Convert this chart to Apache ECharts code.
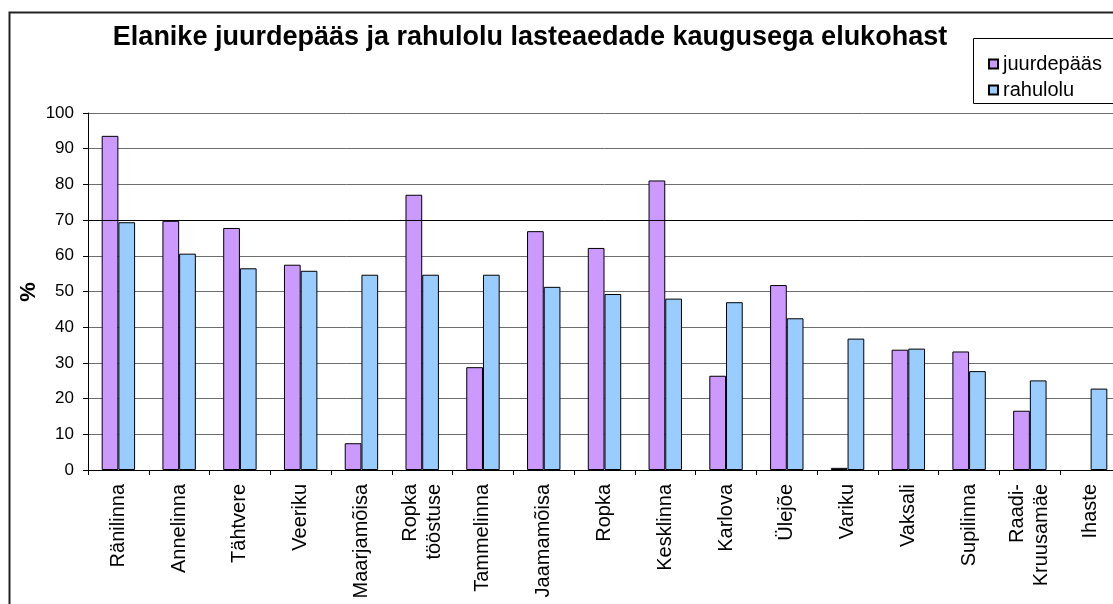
<!DOCTYPE html>
<html>
<head>
<meta charset="utf-8">
<script src="https://cdn.jsdelivr.net/npm/echarts@6/dist/echarts.min.js"></script>
<style>
  html, body { margin: 0; padding: 0; background: #fff; overflow: hidden; }
  #main { width: 1121px; height: 604px; }
</style>
</head>
<body>
<div id="main"></div>
<script>
const titleText = 'Elanike juurdepääs ja rahulolu lasteaedade kaugusega elukohast';
const categories = ['Ränilinna', 'Annelinna', 'Tähtvere', 'Veeriku', 'Maarjamõisa', 'Ropka\ntööstuse',
  'Tammelinna', 'Jaamamõisa', 'Ropka', 'Kesklinna', 'Karlova', 'Ülejõe', 'Variku', 'Vaksali',
  'Supilinna', 'Raadi-\nKruusamäe', 'Ihaste'];
const seriesNames = ['juurdepääs', 'rahulolu'];
const juurdepaas = [93.6, 69.8, 67.8, 57.5, 7.5, 77.1, 28.8, 66.9, 62.2, 81.1, 26.4, 51.8, 0.6, 33.7, 33.2, 16.6, null];
const rahulolu = [69.4, 60.6, 56.5, 55.8, 54.7, 54.7, 54.7, 51.3, 49.3, 48.0, 47.0, 42.5, 36.8, 34.0, 27.7, 25.1, 22.8];
const yMin = 0, yMax = 100, yStep = 10;
const yAxisTitle = '%';

const FONT = '"Liberation Sans", Arial, sans-serif';
const chart = echarts.init(document.getElementById('main'));
chart.setOption({
  animation: false,
  backgroundColor: '#fff',
  textStyle: { fontFamily: FONT, color: '#000' },
  grid: { left: 88, right: 0, top: 113, bottom: 134, containLabel: false },
  legend: {
    left: 988, top: 54, orient: 'vertical',
    itemWidth: 9, itemHeight: 9, itemGap: 6, padding: 0,
    icon: 'rect',
    textStyle: { fontSize: 20, fontFamily: FONT, color: '#000' },
    data: seriesNames
  },
  xAxis: {
    type: 'category', data: categories, boundaryGap: true,
    axisLine: { lineStyle: { color: '#000', width: 1 } },
    axisTick: { show: true, length: 5, lineStyle: { color: '#000' }, alignWithLabel: false },
    axisLabel: { interval: 0, rotate: 90, margin: 14, fontSize: 20, lineHeight: 24, color: '#000', fontFamily: FONT }
  },
  yAxis: {
    type: 'value', min: yMin, max: yMax, interval: yStep,
    axisLine: { show: true, lineStyle: { color: '#000', width: 1 } },
    axisTick: { show: true, length: 5, lineStyle: { color: '#000' } },
    axisLabel: { margin: 14, fontSize: 17, color: '#000', fontFamily: FONT },
    splitLine: { show: true, lineStyle: { color: '#6e6e6e', width: 1 } }
  },
  series: [
    {
      name: seriesNames[0], type: 'bar', data: juurdepaas,
      barGap: '0%', barCategoryGap: '45%',
      itemStyle: { color: '#CC99FF', borderColor: '#000', borderWidth: 1 },
      markLine: {
        silent: true, symbol: 'none', label: { show: false },
        lineStyle: { color: '#000', width: 1, type: 'solid' },
        data: [{ yAxis: 70 }]
      },
      z: 2
    },
    {
      name: seriesNames[1], type: 'bar', data: rahulolu,
      barGap: '0%', barCategoryGap: '45%',
      itemStyle: { color: '#99CCFF', borderColor: '#000', borderWidth: 1 },
      z: 3
    }
  ],
  graphic: [
    { type: 'rect', silent: true, z: 100,
      shape: { x: 9.5, y: 12.5, width: 1400, height: 900 },
      style: { fill: null, stroke: '#222', lineWidth: 2 } },
    { type: 'rect', silent: true, z: 100,
      shape: { x: 973.5, y: 38.5, width: 160, height: 65 },
      style: { fill: null, stroke: '#000', lineWidth: 1 } },
    { type: 'text', silent: true, z: 100, x: 530, y: 38,
      style: { text: titleText, fontSize: 27, fontWeight: 'bold', fontFamily: FONT,
        fill: '#000', textAlign: 'center', textVerticalAlign: 'middle' } },
    { type: 'text', silent: true, z: 100, x: 29, y: 292, rotation: Math.PI / 2,
      style: { text: yAxisTitle, fontSize: 22, fontWeight: 'bold', fontFamily: FONT,
        fill: '#000', textAlign: 'center', textVerticalAlign: 'middle' } }
  ]
});
</script>
</body>
</html>
